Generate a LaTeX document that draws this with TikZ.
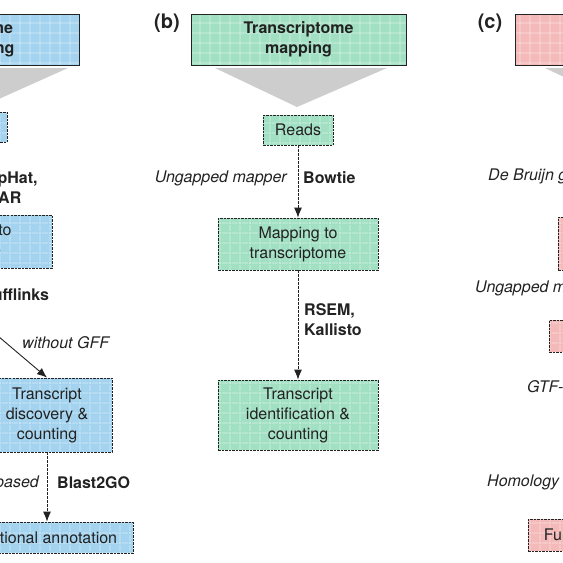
\documentclass[tikz,border=0pt]{standalone}
\usepackage{fontspec}
\setmainfont{TeX Gyre Heros}
\usetikzlibrary{arrows.meta,patterns.meta}

\definecolor{mapblue}{HTML}{A3D3EF}
\definecolor{mapgreen}{HTML}{A2E0C3}
\definecolor{mappink}{HTML}{F4B9B9}
\definecolor{funnelgray}{HTML}{CDCDCD}
\definecolor{inkgray}{HTML}{222222}

\newcommand{\boxfont}{\fontsize{16}{20}\selectfont}

\tikzset{
  tint/.style={preaction={fill=#1},
    preaction={opacity=0.2, pattern={Lines[distance=10pt,angle=0,line width=1.3pt]}, pattern color=white},
    preaction={opacity=0.2, pattern={Lines[distance=10pt,angle=90,line width=1.3pt]}, pattern color=white}},
  topbox/.style={draw=inkgray, line width=0.9pt, font=\boxfont\bfseries, text=inkgray, align=center, minimum height=51pt, inner sep=2pt},
  stepbox/.style={draw=inkgray, line width=0.8pt, dash pattern=on 2.5pt off 1pt, font=\boxfont, text=inkgray, align=center, inner sep=2pt},
  tool/.style={font=\boxfont\bfseries, text=inkgray, align=left, anchor=west, inner sep=0pt},
  kind/.style={font=\boxfont\itshape, text=inkgray, inner sep=0pt},
  panel/.style={font=\fontsize{20}{24}\selectfont\bfseries, text=inkgray},
  flow/.style={-{Latex[length=10pt,width=8pt]}, draw=inkgray, line width=0.9pt, dash pattern=on 3pt off 1pt},
  branch/.style={-{Latex[length=10pt,width=8pt]}, draw=inkgray, line width=0.9pt}
}

\begin{document}
\begin{tikzpicture}[x=1pt, y=-1pt]
\useasboundingbox (0,0) rectangle (563,563);
\clip (0,0) rectangle (563,563);

% (a) genome mapping
\node[topbox, tint=mapblue, minimum width=196pt] (atop) at (-19,39.5) {Genome\\mapping};
\fill[funnelgray] (-105,68) -- (68,68) -- (-19,107) -- cycle;
\node[stepbox, tint=mapblue, minimum width=70pt, minimum height=30pt] (areads) at (-28,127) {Reads};
\node[stepbox, tint=mapblue, minimum width=160pt, minimum height=53pt] (amap) at (-28,241.5) {Mapping to\\genome};
\coordinate (asplit) at (-28,314);
\node[stepbox, tint=mapblue, minimum width=130pt, minimum height=74pt] (adisc) at (47,415) {Transcript\\discovery \&\\counting};
\node[stepbox, tint=mapblue, minimum width=184pt, minimum height=31pt] (afunc) at (41,537.5) {Functional annotation};
\draw[flow] (areads) -- (amap);
\draw[flow, -] (amap) -- (asplit);
\draw[branch] (asplit) -- (adisc.north);
\draw[flow] (adisc.south) -- (adisc.south |- afunc.north);
\node[tool] (atophat) at (-21,187.5) {TopHat,\\STAR};
\node[tool] (acuff) at (-19,295) {Cufflinks};
\node[kind, anchor=west] (agff) at (22,343) {without GFF};
\node[kind, anchor=east] (ahomol) at (39,483) {Homology-based};
\node[tool] (ablast) at (57,483) {Blast2GO};

% (b) transcriptome mapping
\node[panel] (blabel) at (167,23) {(b)};
\node[topbox, tint=mapgreen, minimum width=215pt] (btop) at (298.5,39.5) {Transcriptome\\mapping};
\fill[funnelgray] (215,68) -- (387,68) -- (297,107) -- cycle;
\node[stepbox, tint=mapgreen, minimum width=70pt, minimum height=30pt] (breads) at (298,130) {Reads};
\node[stepbox, tint=mapgreen, minimum width=160pt, minimum height=52pt] (bmap) at (298,244) {Mapping to\\transcriptome};
\node[stepbox, tint=mapgreen, minimum width=160pt, minimum height=70pt] (bcount) at (298,415) {Transcript\\identification \&\\counting};
\draw[flow] (breads) -- (bmap);
\draw[flow] (bmap) -- (bcount);
\node[kind, anchor=east] (bungap) at (287,178) {Ungapped mapper};
\node[tool] (bbowtie) at (303,178) {Bowtie};
\node[tool] (brsem) at (304,320) {RSEM,\\Kallisto};

% (c) assembly, cut at the right edge
\node[panel] (clabel) at (490,23) {(c)};
\node[topbox, tint=mappink, minimum width=215pt] (ctop) at (622.5,39.5) {};
\fill[funnelgray] (545,68) -- (717,68) -- (627,107) -- cycle;
\node[stepbox, tint=mappink, minimum width=132pt, minimum height=53pt] (cassem) at (624,243.5) {};
\node[stepbox, tint=mappink, minimum width=150pt, minimum height=32pt] (cmap) at (624,336) {};
\node[stepbox, tint=mappink, minimum width=184pt, minimum height=32pt] (cfunc) at (620,535) {Functional annotation};
\draw[flow] (cassem) -- (cmap);
\node[kind, anchor=west] (cbruijn) at (488,176) {De Bruijn graph};
\node[kind, anchor=west] (cungap) at (475,288) {Ungapped mapper};
\node[kind, anchor=west] (cgtf) at (527,387) {GTF-based};
\node[kind, anchor=west] (chomol) at (487,482) {Homology based};
\end{tikzpicture}
\end{document}
